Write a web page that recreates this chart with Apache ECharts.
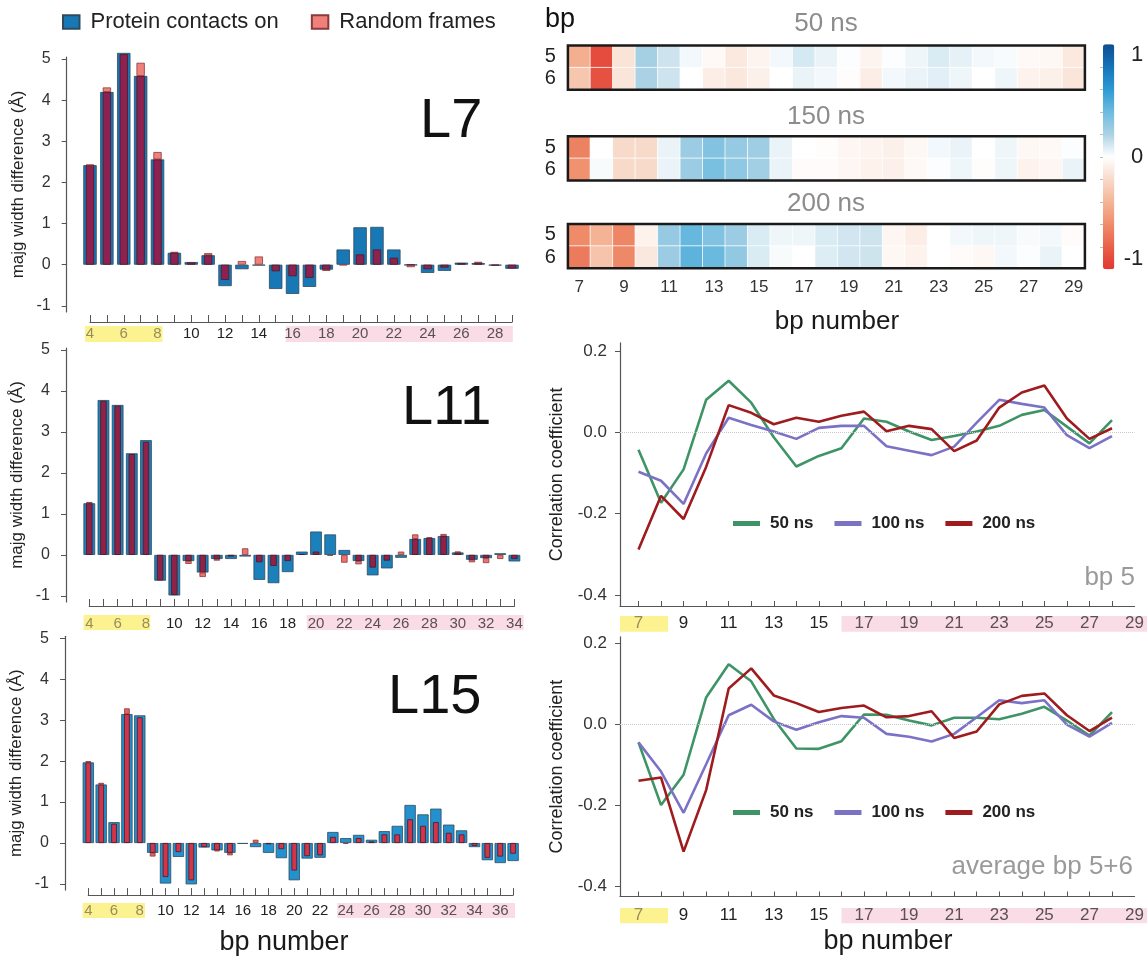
<!DOCTYPE html>
<html><head><meta charset="utf-8">
<script src="https://cdn.jsdelivr.net/npm/echarts@6/dist/echarts.min.js"></script>
<style>html,body{margin:0;padding:0;background:#fff;}#c{width:1147px;height:956px;}</style>
</head><body><div id="c"></div>
<script>
// ---------------- DATA ----------------
const l7Cats = [4,5,6,7,8,9,10,11,12,13,14,15,16,17,18,19,20,21,22,23,24,25,26,27,28,29];
const l7Protein = [2.42,4.20,5.15,4.59,2.56,0.29,0.065,0.23,-0.52,-0.11,-0.02,-0.59,-0.71,-0.54,-0.12,0.37,0.91,0.92,0.37,-0.01,-0.20,-0.15,0.05,0.04,-0.02,-0.10];
const l7Random  = [2.43,4.31,5.12,4.91,2.74,0.31,0.055,0.28,-0.37,0.09,0.20,-0.16,-0.28,-0.32,-0.15,-0.01,0.25,0.37,0.17,-0.06,-0.11,-0.07,0.04,0.07,-0.02,-0.09];
const l7Yellow = [3.7, 8.3];
const l7Pink = [15.6, 29.05];

const l11Cats = [4,5,6,7,8,9,10,11,12,13,14,15,16,17,18,19,20,21,22,23,24,25,26,27,28,29,30,31,32,33,34];
const l11Protein = [1.26,3.78,3.66,2.48,2.80,-0.63,-0.99,-0.15,-0.43,-0.10,-0.10,-0.04,-0.61,-0.69,-0.42,0.08,0.57,0.50,0.12,-0.15,-0.50,-0.33,-0.07,0.39,0.41,0.46,0.06,-0.12,-0.08,0.04,-0.16];
const l11Random  = [1.29,3.76,3.64,2.46,2.76,-0.62,-0.98,-0.22,-0.54,-0.14,-0.04,0.16,-0.18,-0.27,-0.15,0.02,0.08,-0.02,-0.19,-0.23,-0.31,-0.14,0.08,0.50,0.43,0.51,0.08,-0.18,-0.20,-0.10,-0.10];
const l11Yellow = [3.6, 8.3];
const l11Pink = [19.35, 34.65];

const l15Cats = [4,5,6,7,8,9,10,11,12,13,14,15,16,17,18,19,20,21,22,23,24,25,26,27,28,29,30,31,32,33,34,35,36,37];
const l15Protein = [1.97,1.43,0.51,3.15,3.12,-0.24,-0.99,-0.34,-1.01,-0.11,-0.18,-0.24,-0.02,-0.10,-0.24,-0.37,-0.91,-0.38,-0.36,0.27,0.12,0.20,0.08,0.29,0.42,0.93,0.70,0.84,0.45,0.31,-0.10,-0.42,-0.49,-0.44];
const l15Random  = [2.00,1.47,0.47,3.29,3.07,-0.33,-0.83,-0.22,-0.91,-0.10,-0.20,-0.30,0.00,0.08,-0.03,-0.15,-0.67,-0.32,-0.30,0.15,-0.02,0.12,0.04,0.21,0.21,0.58,0.42,0.51,0.25,0.21,-0.07,-0.36,-0.33,-0.26];
const l15Yellow = [3.56, 8.4];
const l15Pink = [23.34, 37.15];

const barYTicks = [-1,0,1,2,3,4,5];

const hmCats = [7,8,9,10,11,12,13,14,15,16,17,18,19,20,21,22,23,24,25,26,27,28,29];
const hmRows = ['5','6'];
const hm50r5  = [-0.43,-0.90,-0.15,0.22,0.12,0.03,-0.03,-0.12,-0.06,0.03,0.10,0.05,0.01,-0.06,0.01,0.04,0.09,0.06,0.03,0.02,-0.03,-0.04,-0.12];
const hm50r6  = [-0.31,-0.87,-0.14,0.20,0.12,0.00,-0.09,-0.13,-0.08,0.00,0.05,0.03,-0.01,-0.09,0.03,0.05,0.07,0.04,0.00,0.04,-0.07,-0.08,-0.14];
const hm150r5 = [-0.65,0.00,-0.20,-0.20,0.05,0.25,0.33,0.27,0.24,0.05,0.00,-0.01,-0.05,-0.06,-0.08,-0.04,0.03,0.05,0.00,0.04,-0.04,-0.03,0.01];
const hm150r6 = [-0.58,0.02,-0.20,-0.20,0.05,0.25,0.36,0.29,0.23,0.05,-0.02,-0.02,-0.05,-0.07,-0.08,-0.03,0.01,0.04,-0.01,0.04,-0.07,-0.05,0.05];
const hm200r5 = [-0.61,-0.41,-0.63,-0.07,0.27,0.42,0.34,0.25,0.09,0.04,0.04,0.09,0.11,0.12,-0.05,-0.09,0.00,0.03,0.04,0.04,0.02,0.03,-0.02];
const hm200r6 = [-0.68,-0.32,-0.62,-0.13,0.25,0.45,0.41,0.28,0.09,0.02,0.00,0.08,0.11,0.12,-0.04,-0.07,0.00,-0.02,-0.04,0.03,0.01,0.05,0.00];
const cbLabels = ['1','0','-1'];

const corrX = [7,8,9,10,11,12,13,14,15,16,17,18,19,20,21,22,23,24,25,26,27,28];
const corrLabelVals = [7,9,11,13,15,17,19,21,23,25,27,29];
const corrYTicks = [-0.4,-0.2,0,0.2];
const bp5_50  = [-0.043,-0.173,-0.091,0.080,0.127,0.073,-0.012,-0.084,-0.058,-0.039,0.034,0.026,0.002,-0.019,-0.009,0.002,0.016,0.043,0.055,0.014,-0.027,0.030];
const bp5_100 = [-0.097,-0.119,-0.176,-0.052,0.036,0.018,0.002,-0.016,0.011,0.016,0.016,-0.034,-0.045,-0.056,-0.035,0.024,0.080,0.070,0.061,-0.007,-0.039,-0.009];
const bp5_200 = [-0.288,-0.156,-0.213,-0.085,0.067,0.048,0.020,0.036,0.026,0.041,0.051,0.003,0.016,0.008,-0.046,-0.020,0.061,0.098,0.115,0.034,-0.016,0.010];
const avg_50  = [-0.045,-0.200,-0.125,0.066,0.148,0.106,0.013,-0.060,-0.061,-0.042,0.024,0.023,0.009,-0.003,0.016,0.016,0.012,0.026,0.043,0.009,-0.028,0.030];
const avg_100 = [-0.045,-0.117,-0.219,-0.099,0.022,0.048,0.007,-0.014,0.005,0.020,0.016,-0.024,-0.031,-0.043,-0.024,0.017,0.059,0.052,0.059,-0.001,-0.031,0.003];
const avg_200 = [-0.140,-0.132,-0.315,-0.163,0.088,0.138,0.071,0.052,0.030,0.040,0.046,0.017,0.020,0.032,-0.034,-0.018,0.049,0.070,0.076,0.022,-0.017,0.016];
const corrYellow = [6.18, 8.29];
const corrPink = [15.9, 29.4];

// ---------------- STYLE ----------------
const FONT = "'Liberation Sans', Arial, Helvetica, sans-serif";
const YELLOW = '#FDF290';
const PINK = '#F9DCE6';
const AX = '#555';
const CMAP = ['#E2372F','#E8604A','#EF8D6B','#F4B597','#F8DACA','#FFFFFF','#ABD2E4','#6DBBDF','#2D9AD3','#1573B8','#0D4F90'];

const option = {animation:false, textStyle:{fontFamily:FONT}, grid:[], xAxis:[], yAxis:[], series:[], legend:[], visualMap:[], graphic:{elements:[]}};

function labelColor(v, yellow, pink) {
  v = Number(v);
  if (v >= yellow[0] && v <= yellow[1]) return '#968d5e';
  if (v >= pink[0] && v <= pink[1]) return '#5b5055';
  return '#222';
}

function addBand(rect, xMin, xMax, yellow, pink) {
  const g = option.grid.length; option.grid.push(rect);
  const xi = option.xAxis.length; option.xAxis.push({type:'value', gridIndex:g, min:xMin, max:xMax, show:false});
  const yi = option.yAxis.length; option.yAxis.push({type:'value', gridIndex:g, min:0, max:1, show:false});
  option.series.push({type:'custom', xAxisIndex:xi, yAxisIndex:yi, z:1, silent:true, clip:false,
    encode:{x:[0,1], y:2},
    data:[[yellow[0], yellow[1], 0],[pink[0], pink[1], 1]],
    renderItem(params, api){
      const p0 = api.coord([api.value(0), 0]);
      const p1 = api.coord([api.value(1), 1]);
      return {type:'rect', shape:{x:p0[0], y:p1[1], width:p1[0]-p0[0], height:p0[1]-p1[1]},
        style:{fill: api.value(2) === 0 ? YELLOW : PINK}};
    }});
}

function addBarPanel(c) {
  const g = option.grid.length; option.grid.push(c.grid);
  const cats = c.cats.map(String);
  const xi = option.xAxis.length;
  option.xAxis.push({type:'category', gridIndex:g, data:cats, boundaryGap:false, offset:c.xOffset, z:3,
    axisLine:{onZero:false, lineStyle:{color:AX, width:1.2}},
    axisTick:{inside:true, length:7, interval:0, lineStyle:{color:AX}},
    axisLabel:{interval:1, fontSize:15, margin:c.labelMargin, color:(v)=>labelColor(v, c.yellow, c.pink)},
    splitLine:{show:false}});
  option.xAxis.push({type:'category', gridIndex:g, data:cats, boundaryGap:false, show:false, axisLine:{onZero:false}});
  const yi = option.yAxis.length;
  option.yAxis.push({type:'value', gridIndex:g, min:-1.15, max:5.05, offset:23.3,
    name:'majg width difference (Å)', nameLocation:'middle', nameGap:40,
    nameTextStyle:{fontSize:17, color:'#222'},
    axisLine:{show:true, onZero:false, lineStyle:{color:AX, width:1.2}},
    axisTick:{show:true, length:5, customValues:barYTicks, lineStyle:{color:AX}},
    axisLabel:{customValues:barYTicks, fontSize:16, color:'#333', margin:16},
    splitLine:{show:false}});
  const overlap = [], excess = [];
  c.prot.forEach((b, i) => {
    const r = c.rand[i];
    const o = (b * r > 0) ? Math.sign(r) * Math.min(Math.abs(b), Math.abs(r)) : 0;
    const e = +(r - o).toFixed(4);
    overlap.push(o === 0 ? '-' : o);
    excess.push(e === 0 ? '-' : e);
  });
  option.series.push({type:'bar', name:'Protein contacts on', xAxisIndex:xi, yAxisIndex:yi, data:c.prot,
    barWidth:c.bw, clip:false, itemStyle:{color:c.blue, borderColor:'#2d4b5e', borderWidth:0.8}});
  option.series.push({type:'bar', name:'Random frames overlap', xAxisIndex:xi+1, yAxisIndex:yi, data:overlap, stack:'r'+g,
    barWidth:c.rw, clip:false, itemStyle:{color:c.over, borderColor:'#4a1a28', borderWidth:0.8}});
  option.series.push({type:'bar', name:'Random frames', xAxisIndex:xi+1, yAxisIndex:yi, data:excess, stack:'r'+g,
    barWidth:c.rw, clip:false, itemStyle:{color:c.exc, borderColor:'#8a3a3a', borderWidth:0.8}});
  addBand(c.band, c.cats[0], c.cats[c.cats.length-1], c.yellow, c.pink);
}

addBarPanel({grid:{left:90, top:57, width:422, height:255}, cats:l7Cats, prot:l7Protein, rand:l7Random,
  yellow:l7Yellow, pink:l7Pink, xOffset:10, labelMargin:4, bw:13.4, rw:8.3,
  blue:'#1878B5', over:'#8D2250', exc:'#F0807A', band:{left:90, top:326, width:422, height:16}});
addBarPanel({grid:{left:89.3, top:348, width:425.1, height:254}, cats:l11Cats, prot:l11Protein, rand:l11Random,
  yellow:l11Yellow, pink:l11Pink, xOffset:4, labelMargin:10, bw:11.7, rw:6.4,
  blue:'#1C80BB', over:'#902248', exc:'#F07070', band:{left:89.3, top:615, width:425.1, height:15}});
addBarPanel({grid:{left:88.3, top:636.3, width:424.8, height:253.8}, cats:l15Cats, prot:l15Protein, rand:l15Random,
  yellow:l15Yellow, pink:l15Pink, xOffset:5, labelMargin:8, bw:11.3, rw:5.7,
  blue:'#2391CD', over:'#D2344A', exc:'#E8605E', band:{left:88.3, top:903, width:424.8, height:15}});

// ---------------- HEATMAPS ----------------
const heatSeries = [];
function addHeatmap(top, r5, r6, showX) {
  const g = option.grid.length;
  option.grid.push({left:567.9, top:top, width:517, height:44.3, show:true, z:3, borderColor:'#1a1a1a', borderWidth:2.5, backgroundColor:'transparent'});
  const xi = option.xAxis.length;
  option.xAxis.push({type:'category', gridIndex:g, data:hmCats.map(String), axisLine:{show:false}, axisTick:{show:false},
    axisLabel:{show:showX, interval:1, fontSize:17, color:'#333', margin:11}, splitLine:{show:false}});
  const yi = option.yAxis.length;
  option.yAxis.push({type:'category', gridIndex:g, data:hmRows, inverse:true, axisLine:{show:false}, axisTick:{show:false},
    axisLabel:{interval:0, fontSize:20, color:'#222', margin:12}, splitLine:{show:false}});
  const data = [];
  hmCats.forEach((c, i) => { data.push([i, 0, r5[i]]); data.push([i, 1, r6[i]]); });
  heatSeries.push(option.series.length);
  option.series.push({type:'heatmap', xAxisIndex:xi, yAxisIndex:yi, data:data,
    itemStyle:{borderColor:'rgba(255,255,255,0.75)', borderWidth:1}});
}
addHeatmap(45.5, hm50r5, hm50r6, false);
addHeatmap(136.2, hm150r5, hm150r6, false);
addHeatmap(223.9, hm200r5, hm200r6, true);

option.visualMap.push({type:'continuous', min:-1, max:1, seriesIndex:heatSeries, orient:'vertical',
  left:1098, top:39.3, padding:5, itemWidth:11.3, itemHeight:225, calculable:false, inRange:{color:CMAP}});

// colorbar labels axis
(function(){
  const g = option.grid.length;
  option.grid.push({left:1103, top:44.3, width:11.3, height:225, show:false});
  option.xAxis.push({type:'value', gridIndex:g, show:false});
  const cbTickVals = [-0.88,-0.66,-0.44,-0.22,0,0.22,0.44,0.66,0.88];
  option.yAxis.push({type:'value', gridIndex:g, position:'right', min:-1.1, max:1.1, z:10,
    axisLine:{show:false}, splitLine:{show:false},
    axisTick:{show:true, inside:true, length:3, customValues:cbTickVals, lineStyle:{color:'#bdbdbd'}},
    axisLabel:{customValues:cbLabels.map(Number), align:'right', margin:29, fontSize:22, color:'#222'}});
})();

// ---------------- CORRELATION PANELS ----------------
function addCorrPanel(c) {
  const g = option.grid.length; option.grid.push(c.grid);
  const xi = option.xAxis.length;
  option.xAxis.push({type:'value', gridIndex:g, min:6.18, max:29, z:3,
    axisLine:{onZero:false, lineStyle:{color:AX, width:1.2}},
    axisTick:{inside:true, length:5, customValues:corrX, lineStyle:{color:AX}},
    axisLabel:{customValues:corrLabelVals, fontSize:17, margin:c.labelMargin, color:(v)=>labelColor(v, corrYellow, corrPink)},
    splitLine:{show:false}});
  const yi = option.yAxis.length;
  option.yAxis.push({type:'value', gridIndex:g, min:c.ymin, max:c.ymax,
    name:'Correlation coefficient', nameLocation:'middle', nameGap:54, nameTextStyle:{fontSize:18, color:'#222'},
    axisLine:{show:true, onZero:false, lineStyle:{color:AX, width:1.2}},
    axisTick:{show:true, length:5, customValues:corrYTicks, lineStyle:{color:AX}},
    axisLabel:{customValues:corrYTicks, fontSize:17, color:'#333', margin:13, formatter:(v)=>v.toFixed(1)},
    splitLine:{show:false}});
  const defs = [['50 ns', c.s50, '#3E9467'], ['100 ns', c.s100, '#7B72C6'], ['200 ns', c.s200, '#9E1B1E']];
  defs.forEach((d, k) => {
    const s = {type:'line', name:d[0], xAxisIndex:xi, yAxisIndex:yi, data:corrX.map((x, i) => [x, d[1][i]]),
      symbol:'none', lineStyle:{color:d[2], width:2.6}, itemStyle:{color:d[2]}, z:3+k};
    if (k === 0) s.markLine = {silent:true, symbol:['none','none'], label:{show:false},
      lineStyle:{type:'dotted', color:'#c8c8c8', width:1}, data:[{yAxis:0}]};
    option.series.push(s);
  });
  addBand(c.band, 6.18, 29, corrYellow, corrPink);
  option.legend.push({left:733, top:c.legendTop, padding:0, icon:'rect', itemWidth:27, itemHeight:5, itemGap:21,
    data:['50 ns','100 ns','200 ns'], textStyle:{fontSize:17, fontWeight:'bold', color:'#222', padding:[0,0,0,5]}});
}
addCorrPanel({grid:{left:620, top:342.9, width:520, height:263.1}, ymin:-0.427, ymax:0.22, labelMargin:9,
  s50:bp5_50, s100:bp5_100, s200:bp5_200, band:{left:620, top:616, width:520, height:15.7}, legendTop:515});
addCorrPanel({grid:{left:620, top:636.8, width:520, height:259.7}, ymin:-0.426, ymax:0.216, labelMargin:10,
  s50:avg_50, s100:avg_100, s200:avg_200, band:{left:620, top:908, width:520, height:15.3}, legendTop:804});

// bar legend
option.legend.push({left:62, top:11, padding:0, icon:'rect', itemWidth:16.5, itemHeight:13.5, itemGap:32,
  data:['Protein contacts on','Random frames'], textStyle:{fontSize:22, color:'#222', padding:[0,0,0,6]}});

// ---------------- FREE TEXT ----------------
function txt(text, x, y, fs, o) {
  o = o || {};
  option.graphic.elements.push({type:'text', x:x, y:y, silent:true, style:{text:text, fontSize:fs, fontFamily:FONT,
    fontWeight:o.weight || 'normal', fill:o.color || '#111', align:o.align || 'left', verticalAlign:'middle',
    textAlign:o.align || 'left', textVerticalAlign:'middle'}});
}
txt('L7', 420, 122, 56);
txt('L11', 402, 409, 56);
txt('L15', 388, 698, 56);
txt('bp', 545, 20, 27);
txt('50 ns', 826, 24, 26, {color:'#8c8c8c', align:'center'});
txt('150 ns', 826, 117, 26, {color:'#8c8c8c', align:'center'});
txt('200 ns', 826, 204, 26, {color:'#8c8c8c', align:'center'});
txt('bp number', 837, 322, 26, {align:'center', color:'#1a1a1a'});
txt('bp number', 284, 943, 27, {align:'center', color:'#1a1a1a'});
txt('bp number', 888, 942, 27, {align:'center', color:'#1a1a1a'});
txt('bp 5', 1135, 578, 26, {align:'right', color:'#9a9a9a'});
txt('average bp 5+6', 1133, 867, 26, {align:'right', color:'#9a9a9a'});

const chart = echarts.init(document.getElementById('c'), null, {renderer:'canvas'});
chart.setOption(option);
</script>
</body></html>
